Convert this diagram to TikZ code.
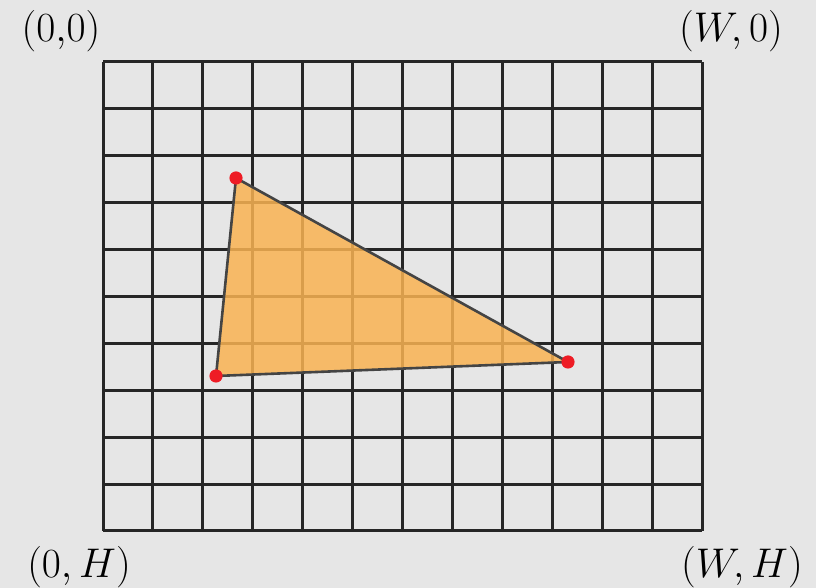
\documentclass[tikz,border=0pt]{standalone}
\usetikzlibrary{positioning}
\definecolor{bggray}{HTML}{E6E6E6}
\definecolor{gridline}{HTML}{262626}
\definecolor{triedge}{HTML}{444444}
\definecolor{trifill}{HTML}{F9B352}
\definecolor{dotred}{HTML}{EE1C25}
\begin{document}
\begin{tikzpicture}[x=0.5pt, y=-0.5pt,
    corner/.style={inner sep=0pt, font=\fontsize{21}{24}\selectfont},
    vertex/.style={circle, fill=dotred, inner sep=0pt, minimum size=6.6pt}]
    \fill[bggray] (0,0) rectangle (816,588);
    % Grid
    \foreach \i in {0,...,12}
        \draw[gridline, line width=1.5pt] (103+\i*49.92, 62) -- (103+\i*49.92, 531);
    \foreach \j in {0,...,10}
        \draw[gridline, line width=1.5pt] (103, 62+\j*46.9) -- (702, 62+\j*46.9);
    % Corners
    \node[corner] (tl) at (61, 31) {$(0{,}0)$};
    \node[corner] (tr) at (731, 31) {$(W,0)$};
    \node[corner] (bl) at (79, 567) {$(0,H)$};
    \node[corner] (br) at (742, 567) {$(W,H)$};
    % Triangle
    \coordinate (A) at (236, 178);
    \coordinate (B) at (216, 376);
    \coordinate (C) at (568, 362);
    \filldraw[fill=trifill, fill opacity=0.85, draw=triedge, line width=1.3pt, line join=round] (A) -- (B) -- (C) -- cycle;
    \node[vertex] (pa) at (A) {};
    \node[vertex] (pb) at (B) {};
    \node[vertex] (pc) at (C) {};
\end{tikzpicture}
\end{document}
